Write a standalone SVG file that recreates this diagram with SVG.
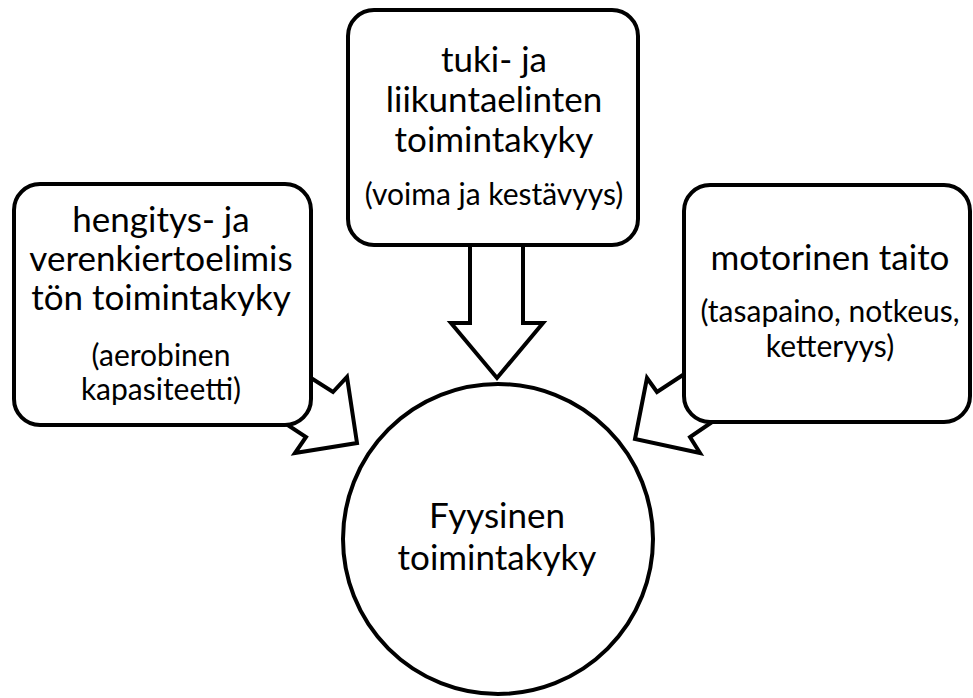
<svg xmlns="http://www.w3.org/2000/svg" width="973" height="698" viewBox="0 0 973 698">
<style>
.shape{fill:#fff;stroke:#000;stroke-width:4;stroke-linejoin:miter}
.big{font-family:Lato,"Liberation Sans",sans-serif;font-size:35px;fill:#000;text-anchor:middle}
.small{font-family:Lato,"Liberation Sans",sans-serif;font-size:30px;fill:#000;text-anchor:middle}
</style>
<rect width="973" height="698" fill="#fff"/>
<g id="connectors">
<polygon class="shape" points="300,371 333,392 347,377 357,443 295,453 306,437 280,420"/>
<polygon class="shape" points="470,240 523,240 523,323 543,323 497,378 451,323 470,323"/>
<polygon class="shape" points="692,369 657,392 647,378 635,439 700,453 690,437 718,418"/>
</g>
<g id="node-left">
<rect class="shape" x="14" y="184" width="297" height="241" rx="26"/>
<text class="big" x="161" y="232">hengitys- ja</text>
<text class="big" x="161" y="271">verenkiertoelimis</text>
<text class="big" x="161" y="310">tön toimintakyky</text>
<text class="small" x="161" y="366">(aerobinen</text>
<text class="small" x="161" y="400">kapasiteetti)</text>
</g>
<g id="node-top">
<rect class="shape" x="348" y="10" width="290" height="235" rx="26"/>
<text class="big" x="494" y="72">tuki- ja</text>
<text class="big" x="494" y="112">liikuntaelinten</text>
<text class="big" x="494" y="152">toimintakyky</text>
<text class="small" x="494" y="205">(voima ja kestävyys)</text>
</g>
<g id="node-right">
<rect class="shape" x="684" y="185" width="286" height="237" rx="26"/>
<text class="big" x="830" y="270">motorinen taito</text>
<text class="small" x="830" y="322">(tasapaino, notkeus,</text>
<text class="small" x="830" y="357">ketteryys)</text>
</g>
<g id="node-center">
<circle class="shape" cx="498" cy="539" r="155"/>
<text class="big" x="497" y="528">Fyysinen</text>
<text class="big" x="497" y="570">toimintakyky</text>
</g>
</svg>
